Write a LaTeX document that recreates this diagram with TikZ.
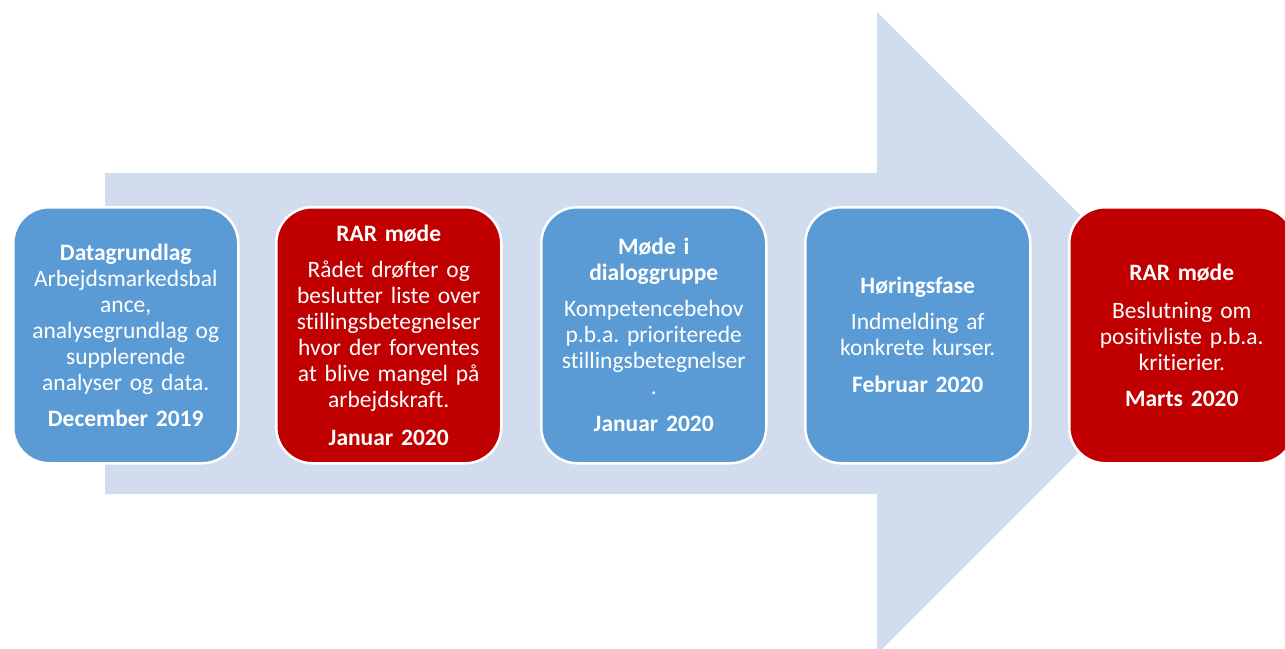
\documentclass[tikz,border=0pt]{standalone}
\usepackage{fontspec}
\setmainfont{Carlito}[Ligatures=NoCommon]
\definecolor{arrowfill}{HTML}{D1DDEE}
\definecolor{stepblue}{HTML}{5B9BD5}
\definecolor{stepred}{HTML}{C00000}
\tikzset{
  stagebox/.style={rounded corners=36pt, draw=white, line width=2.5pt,
    minimum width=225pt, minimum height=256pt, align=center, text=white,
    font=\fontsize{23.5}{26}\selectfont\frenchspacing, inner sep=0pt, anchor=north west,
    text width=220pt},
  bluebox/.style={stagebox, fill=stepblue},
  redbox/.style={stagebox, fill=stepred},
}
\begin{document}
\begin{tikzpicture}[x=1pt,y=-1pt]
\clip (0,0) rectangle (1285,648);
\fill[white] (0,0) rectangle (1285,648);
\fill[arrowfill] (105,173) -- (877,173) -- (877,12) -- (1198,333) -- (877,654) -- (877,494) -- (105,494) -- cycle;
\node[bluebox] (datagrundlag) at (12,206)
  {\textbf{Datagrundlag}\\Arbejdsmarkedsbal\\ance,\\analysegrundlag og\\supplerende\\analyser og data.\\[10pt]\textbf{December 2019}};
\node[redbox] (rar1) at (275,206)
  {\textbf{RAR møde}\\[10pt]Rådet drøfter og\\beslutter liste over\\stillingsbetegnelser\\hvor der forventes\\at blive mangel på\\arbejdskraft.\\[12pt]\textbf{Januar 2020}};
\node[bluebox] (dialog) at (540,206)
  {\textbf{Møde i}\\\textbf{dialoggruppe}\\[10pt]Kompetencebehov\\p.b.a. prioriterede\\stillingsbetegnelser\\.\\[11pt]\textbf{Januar 2020}};
\node[bluebox] (hoering) at (804,206)
  {\textbf{Høringsfase}\\[10pt]Indmelding af\\konkrete kurser.\\[11pt]\textbf{Februar 2020}};
\node[redbox] (rar2) at (1068,206)
  {\textbf{RAR møde}\\[12pt]Beslutning om\\positivliste p.b.a.\\kritierier.\\[10pt]\textbf{Marts 2020}};
\end{tikzpicture}
\end{document}
